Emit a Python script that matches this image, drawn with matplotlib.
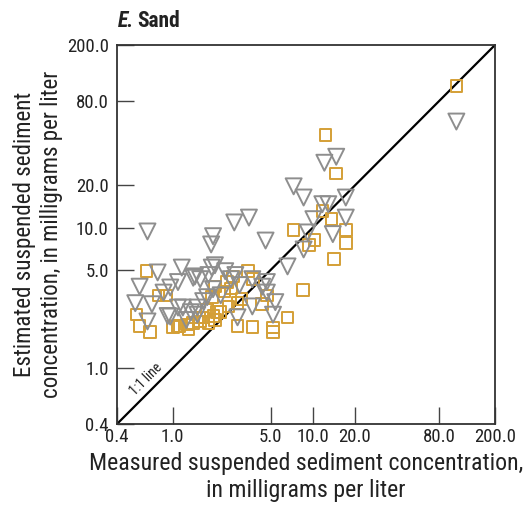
import numpy as np
import matplotlib
matplotlib.use("Agg")
import matplotlib.pyplot as plt
from matplotlib.ticker import FixedLocator, FixedFormatter, NullLocator

plt.rcParams['font.family'] = ['Roboto Condensed', 'Archivo Narrow', 'DejaVu Sans']

# measured vs estimated, sand
sq_measured = [106, 12.3, 14.7, 11.7, 13.6, 7.3, 17.2, 10.3, 9.4, 17.2, 14.2, 8.5,
               6.6, 5.2, 5.2, 4.7, 0.65, 0.55, 0.58, 0.69, 0.79, 0.90, 1.0, 1.12,
               1.3, 1.57, 1.8, 2.0, 1.9, 2.07, 2.6, 2.7, 3.45, 3.75, 4.35, 2.9,
               2.9, 3.7, 2.0, 2.2, 1.65, 1.4, 1.26, 1.08, 2.35, 2.45, 1.75, 1.55,
               3.1, 2.5, 1.95]
sq_estimated = [102, 45.6, 24.4, 13.1, 11.5, 9.6, 9.6, 8.2, 7.5, 7.75, 6.0, 3.6,
                2.3, 1.95, 1.8, 3.3, 4.9, 2.4, 2.0, 1.8, 3.3, 3.3, 1.97, 2.0,
                1.9, 2.15, 2.1, 3.8, 3.2, 2.5, 3.7, 4.5, 4.9, 4.3, 2.85, 2.9,
                2.0, 1.97, 2.2, 2.5, 2.3, 2.1, 2.05, 2.0, 3.5, 4.1, 2.6, 2.3,
                3.1, 2.75, 2.35]

tri_measured = [106, 14.7, 12.1, 7.3, 8.6, 17.2, 11.7, 12.9, 10.1, 17.2, 9.2, 13.9,
                8.6, 6.6, 0.66, 2.75, 3.5, 1.94, 1.88, 4.6, 0.78, 0.58, 0.54, 0.71,
                0.66, 1.16, 1.09, 0.96, 0.86, 0.92, 1.09, 1.4, 1.5, 1.5, 1.65, 1.8,
                1.9, 2.0, 2.37, 2.6, 1.94, 1.76, 2.8, 3.7, 2.9, 3.7, 4.35, 4.7,
                5.4, 5.2, 1.44, 1.57, 1.18, 0.96, 4.7, 1.25, 1.35, 2.2, 3.0]
tri_estimated = [57, 32, 29, 19.7, 16.4, 16.4, 14.7, 14.7, 11.5, 11.8, 9.25, 9.0,
                 7.0, 5.3, 9.4, 10.9, 11.8, 8.7, 7.6, 8.1, 4.8, 3.8, 2.9, 2.85,
                 2.15, 5.2, 4.1, 3.75, 3.45, 2.35, 2.7, 4.4, 2.4, 2.7, 3.0, 4.6,
                 5.2, 5.4, 4.9, 4.3, 3.65, 3.2, 4.6, 4.3, 2.3, 2.75, 3.8, 3.45,
                 2.95, 2.4, 4.5, 4.3, 2.7, 2.33, 4.1, 2.2, 2.5, 3.3, 3.9]

tick_values = [0.4, 1.0, 5.0, 10.0, 20.0, 80.0, 200.0]
tick_labels = ["0.4", "1.0", "5.0", "10.0", "20.0", "80.0", "200.0"]

fig = plt.figure(figsize=(5.29, 5.08), dpi=100)
ax = fig.add_axes([0.2212, 0.1654, 0.7145, 0.746])

orange = "#D49F36"
grey = "#8E8E8E"

ax.plot([0.4, 200], [0.4, 200], color="black", lw=1.6, zorder=1)
ax.scatter(sq_measured, sq_estimated, marker="s", s=8.3**2, facecolors="none",
           edgecolors=orange, linewidths=1.4, zorder=2)
ax.scatter(tri_measured, tri_estimated, marker="v", s=11.5**2, facecolors="none",
           edgecolors=grey, linewidths=1.4, zorder=3)

ax.text(0.64, 0.83, "1:1 line", rotation=45, fontsize=10, color="#222222",
        ha="center", va="center")

ax.set_xscale("log")
ax.set_yscale("log")
ax.set_xlim(0.4, 200)
ax.set_ylim(0.4, 200)
for axis in (ax.xaxis, ax.yaxis):
    axis.set_major_locator(FixedLocator(tick_values))
    axis.set_major_formatter(FixedFormatter(tick_labels))
    axis.set_minor_locator(NullLocator())
ax.tick_params(which="major", direction="in", length=12, width=1.0,
               color="#444444", labelsize=13.5, labelcolor="#222222")
ax.tick_params(axis="x", pad=3)
ax.tick_params(axis="y", pad=6)
for sp in ax.spines.values():
    sp.set_color("#333333")
    sp.set_linewidth(1.3)

ax.set_xlabel("Measured suspended sediment concentration,\nin milligrams per liter",
              fontsize=17.2, color="#222222", linespacing=1.22, labelpad=4)
ax.set_ylabel("Estimated suspended sediment\nconcentration, in milligrams per liter",
              fontsize=16.6, color="#222222", linespacing=1.22, labelpad=3)

# title: italic "E." then "Sand"
t1 = fig.text(0.222, 0.947, "E.", fontsize=15.5, fontweight="bold", fontstyle="italic",
              color="#222222", va="baseline")
fig.canvas.draw()
bb = t1.get_window_extent()
fig.text((bb.x1 + 3) / fig.bbox.width, 0.947, "Sand", fontsize=15.5, fontweight="bold",
         color="#222222", va="baseline")

fig.savefig("out.png", dpi=100)
